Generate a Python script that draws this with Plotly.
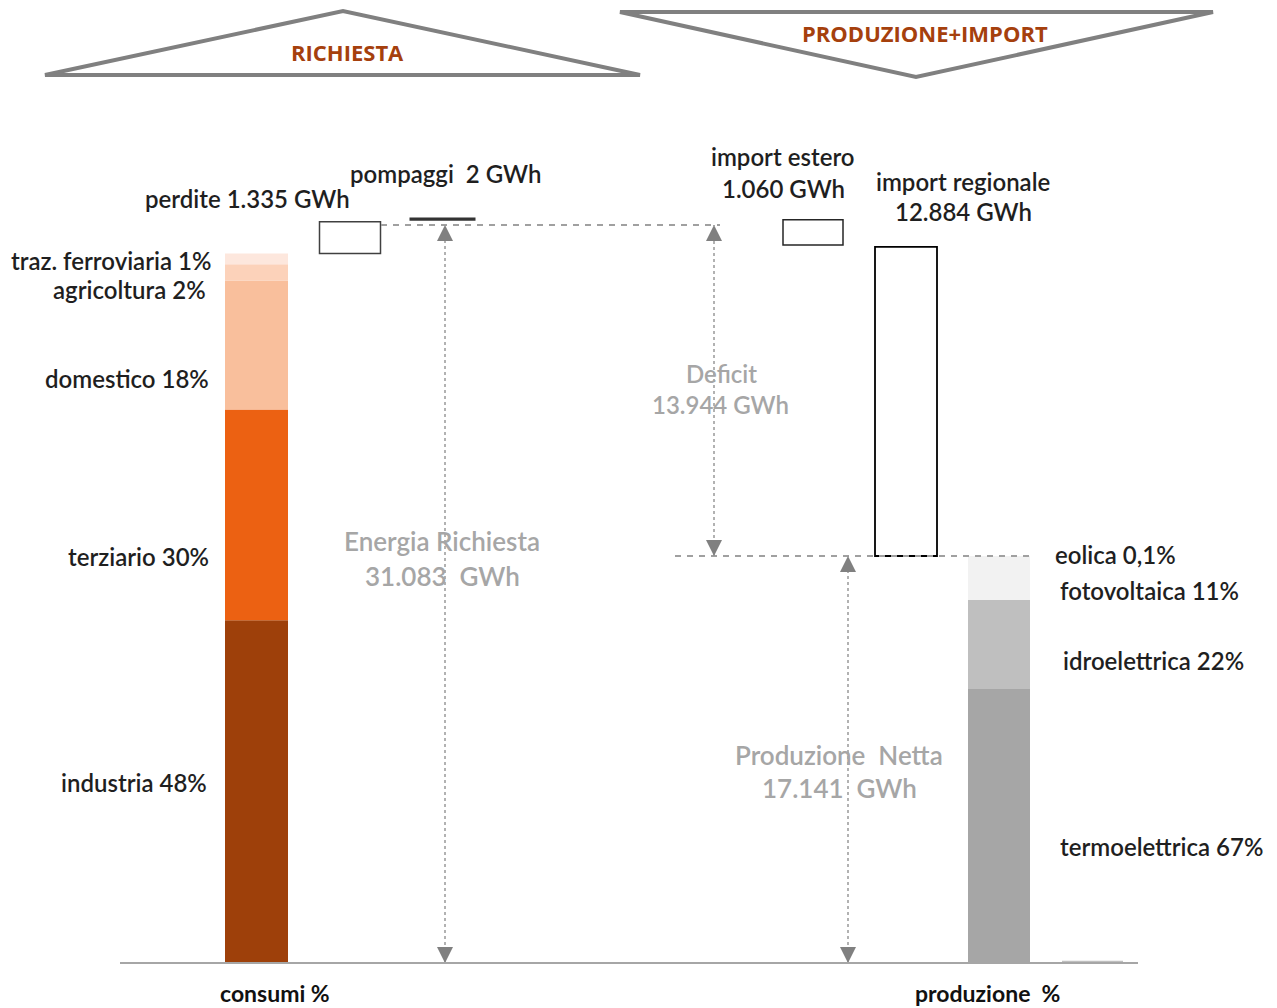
import numpy as np
import plotly.graph_objects as go

# ---------------- data ----------------
energia_richiesta = 31083          # GWh
perdite = 1335                     # GWh
pompaggi = 2                       # GWh
produzione_netta = 17141           # GWh
import_estero = 1060               # GWh
import_regionale = 12884           # GWh
deficit = 13944                    # GWh

consumi_cat = ["industria", "terziario", "domestico", "agricoltura", "traz. ferroviaria"]
consumi_pct_label = ["48%", "30%", "18%", "2%", "1%"]
consumi_share = [48.3, 29.7, 18.2, 2.3, 1.5]
consumi_totale = 29883                            # GWh (bar top)

prod_cat = ["termoelettrica", "idroelettrica", "fotovoltaica", "eolica"]
prod_pct_label = ["67%", "22%", "11%", "0,1%"]
prod_share = [67.3, 21.9, 10.7, 0.1]

import_estero_base = 30240        # GWh
import_regionale_top = 30160      # GWh
pompaggi_level = 31330            # GWh
produzione_extra = 100            # GWh, small grey bar at right (read)

cons_colors = ["#9e400a", "#ec6112", "#f9bf9c", "#fcd2ba", "#fde7dd"]
prod_colors = ["#a6a6a6", "#bfbfbf", "#f2f2f2", "#f2f2f2"]

# ---------------- geometry ----------------
W, H = 1277, 1008
BASE_PX = 963
TOP_PX = 225
k = (BASE_PX - TOP_PX) / energia_richiesta   # px per GWh
ymin = -(H - BASE_PX) / k
ymax = BASE_PX / k


def py(p):
    return 1 - p / H


fig = go.Figure()

# consumption stack
cons_vals = np.array(consumi_share) / 100 * consumi_totale
cons_base = np.concatenate([[0], np.cumsum(cons_vals)[:-1]])
for cat, v, b, c in zip(consumi_cat, cons_vals, cons_base, cons_colors):
    fig.add_trace(go.Bar(x=[256.5], y=[v], base=[b], width=63, marker_color=c,
                         marker_line_width=0, name=cat, showlegend=False))

# perdite box
fig.add_trace(go.Bar(x=[350], y=[perdite], base=[consumi_totale], width=61,
                     marker=dict(color="white", line=dict(color="#404040", width=1.5)),
                     showlegend=False))
# pompaggi
fig.add_trace(go.Bar(x=[442.5], y=[pompaggi], base=[pompaggi_level], width=63,
                     marker=dict(color="#333333", line=dict(color="#333333", width=3)),
                     showlegend=False))
# import estero
fig.add_trace(go.Bar(x=[813], y=[import_estero], base=[import_estero_base], width=60,
                     marker=dict(color="white", line=dict(color="#262626", width=1.5)),
                     showlegend=False))
# import regionale (box drawn from production top to the read top level)
fig.add_trace(go.Bar(x=[906], y=[import_regionale_top - produzione_netta], base=[produzione_netta],
                     width=62,
                     marker=dict(color="white", line=dict(color="#000000", width=1.8)),
                     showlegend=False))
# production stack
prod_vals = np.array(prod_share) / 100 * produzione_netta
prod_base = np.concatenate([[0], np.cumsum(prod_vals)[:-1]])
for cat, v, b, c in zip(prod_cat, prod_vals, prod_base, prod_colors):
    fig.add_trace(go.Bar(x=[999], y=[v], base=[b], width=62, marker_color=c,
                         marker_line_width=0, name=cat, showlegend=False))
# small grey bar
fig.add_trace(go.Bar(x=[1092.5], y=[produzione_extra], base=[0], width=61,
                     marker_color="#bfbfbf", marker_line_width=0, showlegend=False))

# dashed reference lines
fig.add_trace(go.Scatter(x=[381, 720], y=[energia_richiesta, energia_richiesta], mode="lines",
                         line=dict(color="#a0a0a0", width=1.8, dash="6px,6px"), showlegend=False))
fig.add_trace(go.Scatter(x=[675, 1032], y=[produzione_netta, produzione_netta], mode="lines",
                         line=dict(color="#a0a0a0", width=1.8, dash="6px,6px"), showlegend=False))


# double arrows
def darrow(x, y0, y1):
    fig.add_trace(go.Scatter(x=[x, x], y=[y0, y1], mode="lines",
                             line=dict(color="#999999", width=1.5, dash="dot"), showlegend=False))
    fig.add_trace(go.Scatter(x=[x, x], y=[y1, y0], mode="markers",
                             marker=dict(symbol=["arrow-up", "arrow-down"], size=16,
                                         color="#808080", line_width=0),
                             showlegend=False))


darrow(445, 0, energia_richiesta)
darrow(714, produzione_netta, energia_richiesta)
darrow(848, 0, produzione_netta)

# baseline
fig.add_shape(type="line", x0=120, x1=1138, y0=0, y1=0, xref="x", yref="y",
              line=dict(color="#a6a6a6", width=2), layer="above")

# header triangles
fig.add_shape(type="path", xref="x", yref="paper",
              path=f"M 45,{py(75)} L 343,{py(11)} L 640,{py(75)} Z",
              line=dict(color="#808080", width=4), fillcolor="white")
fig.add_shape(type="path", xref="x", yref="paper",
              path=f"M 620,{py(12)} L 1213,{py(12)} L 916,{py(77)} Z",
              line=dict(color="#808080", width=4), fillcolor="white")

FONT = "Lato, 'Open Sans', sans-serif"
DARK = "#1f1f1f"
GREY = "#a6a6a6"


def txt(x, p, s, size=24, color=DARK, xanchor="center", family=FONT, weight=600):
    fig.add_annotation(x=x, y=py(p), xref="x", yref="paper", text=s, showarrow=False,
                       xanchor=xanchor, yanchor="middle",
                       font=dict(family=family, size=size, color=color, weight=weight))


HEAD = "'Open Sans', sans-serif"
txt(347, 52, "RICHIESTA", size=22, color="#a5400d", family=HEAD, weight=700)
txt(925, 33, "PRODUZIONE+IMPORT", size=22, color="#a5400d", family=HEAD, weight=700)

# left labels
cons_label_y = [782, 556, 378, 289, 261]
cons_label_x = [209, 211, 211, 208, 213]
for cat, lab, p, x in zip(consumi_cat, consumi_pct_label, cons_label_y, cons_label_x):
    txt(x, p, f"{cat} {lab}", xanchor="right")

txt(247, 199, f"perdite {perdite:,} GWh".replace(",", "."))
txt(445, 173, f"pompaggi  {pompaggi} GWh")
txt(783, 156, "import estero")
txt(783, 188, f"{import_estero:,} GWh".replace(",", "."))
txt(963, 181, "import regionale")
txt(963, 211, f"{import_regionale:,} GWh".replace(",", "."))

txt(721, 373, "Deficit", size=24, color=GREY)
txt(720, 404, f"{deficit:,} GWh".replace(",", "."), size=24, color=GREY)
txt(442, 541, "Energia Richiesta", size=26, color=GREY)
txt(442, 576, f"{energia_richiesta:,}  GWh".replace(",", "."), size=26, color=GREY)
txt(839, 755, "Produzione  Netta", size=26, color=GREY)
txt(839, 788, f"{produzione_netta:,}  GWh".replace(",", "."), size=26, color=GREY)

# right labels
prod_label_y = [846, 660, 590, 554]
prod_label_x = [1058, 1061, 1058, 1053]
for cat, lab, p, x in zip(prod_cat, prod_pct_label, prod_label_y, prod_label_x):
    txt(x, p, f"{cat} {lab}", xanchor="left")

txt(275, 993, "consumi %", size=23, color="#111111", weight=700)
txt(987, 993, "produzione  %", size=23, color="#111111", weight=700)

fig.update_layout(
    width=W, height=H, margin=dict(l=0, r=0, t=0, b=0),
    paper_bgcolor="white", plot_bgcolor="white",
    barmode="overlay", showlegend=False,
    xaxis=dict(range=[0, W], visible=False, fixedrange=True),
    yaxis=dict(range=[ymin, ymax], visible=False, fixedrange=True),
)

fig.write_html("out.html")
